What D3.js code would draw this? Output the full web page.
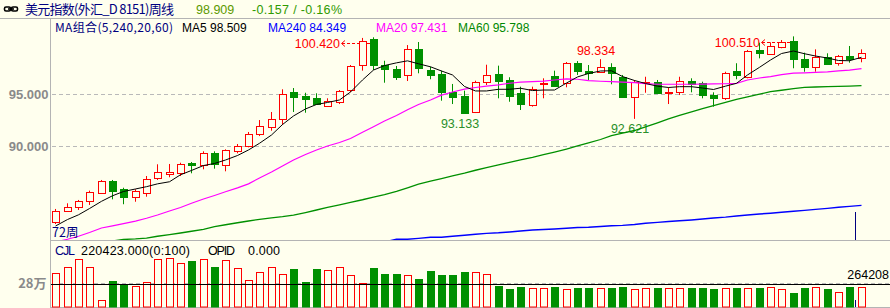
<!DOCTYPE html>
<html>
<head>
<meta charset="utf-8">
<script src="https://cdn.jsdelivr.net/npm/d3@7"></script>
<style>
body { margin: 0; background: #ffffee; }
svg { display: block; }
text { font-family: "Liberation Sans", Arial, sans-serif; }
.cjk { font-family: "Noto Sans CJK SC", "Liberation Sans", sans-serif; }
</style>
</head>
<body>
<svg width="890" height="308"></svg>
<script>
// 72 weekly bars, oldest first
let open = [82.73, 83.84, 84.17, 84.77, 85.56, 86.71, 85.89, 85.18, 85.56, 87.00,
  87.38, 87.48, 88.40, 88.18, 89.33, 88.24, 89.58, 90.00, 91.15, 91.82,
  92.58, 95.19, 94.81, 94.59, 93.88, 94.21, 95.35, 97.77, 100.26, 97.77,
  97.36, 96.79, 99.27, 97.29, 96.91, 95.19, 94.81, 93.25, 96.18, 96.94,
  96.31, 95.10, 93.92, 95.96, 96.72, 96.08, 97.94, 97.20, 97.13, 97.55,
  96.60, 94.74, 96.02, 96.12, 95.12, 95.16, 96.24, 96.02, 94.90, 94.59,
  97.20, 96.65, 99.21, 98.80, 99.52, 100.07, 98.32, 97.61, 98.57, 97.94,
  98.63, 98.41]
let high = [84.01, 84.55, 84.87, 85.76, 86.78, 86.78, 86.04, 85.89, 87.16, 88.28,
  88.31, 88.43, 88.50, 89.52, 89.52, 89.71, 90.22, 91.37, 92.51, 93.28,
  95.45, 95.57, 95.12, 95.07, 94.59, 95.38, 97.77, 100.36, 100.42, 98.18,
  97.68, 99.68, 99.97, 97.61, 97.23, 95.96, 95.32, 96.27, 97.80, 97.71,
  96.60, 95.70, 95.70, 96.50, 97.23, 98.06, 98.15, 97.77, 98.334, 97.94,
  96.82, 96.34, 96.65, 96.34, 95.64, 96.65, 96.50, 96.18, 95.16, 97.13,
  97.94, 99.21, 99.90, 99.94, 100.16, 100.51, 98.95, 99.27, 98.89, 98.73,
  99.59, 99.27]
let low = [82.57, 83.79, 83.91, 84.39, 85.44, 84.93, 84.46, 84.70, 85.18, 86.78,
  87.04, 87.16, 87.42, 87.80, 87.86, 87.61, 89.33, 89.90, 90.98, 91.49,
  92.04, 93.28, 93.21, 93.95, 93.79, 94.04, 95.16, 97.23, 97.29, 96.08,
  96.34, 96.24, 96.98, 96.41, 94.36, 94.04, 93.133, 93.18, 95.86, 94.59,
  94.26, 93.47, 93.79, 94.59, 95.70, 95.64, 96.82, 96.34, 97.04, 95.93,
  94.70, 92.621, 95.12, 95.00, 94.04, 94.90, 95.16, 94.59, 93.79, 94.43,
  96.41, 96.50, 98.41, 98.73, 99.37, 97.46, 97.13, 97.13, 97.80, 97.71,
  97.99, 98.03]
let close = [83.81, 84.17, 84.77, 85.63, 86.65, 85.73, 85.18, 85.73, 86.90, 87.51,
  87.54, 88.31, 88.24, 89.39, 88.31, 89.62, 90.00, 91.15, 91.91, 92.58,
  94.97, 94.67, 94.55, 94.04, 94.33, 95.26, 97.65, 100.10, 97.74, 97.36,
  96.65, 99.27, 97.46, 96.85, 95.22, 94.74, 93.21, 96.15, 96.82, 96.27,
  94.84, 94.04, 95.45, 96.08, 95.79, 97.94, 97.23, 97.04, 97.55, 96.98,
  94.74, 96.12, 96.18, 95.12, 95.22, 96.21, 95.96, 94.90, 94.65, 96.98,
  96.82, 99.11, 98.89, 99.59, 99.94, 98.35, 97.55, 98.57, 97.84, 98.66,
  98.32, 98.909]
let volume = [393000, 463000, 556000, 463000, 78000, 303000, 257000, 241000, 288000, 556000,
  568000, 510000, 537000, 556000, 467000, 545000, 452000, 315000, 405000, 463000,
  382000, 443000, 292000, 443000, 432000, 463000, 370000, 277000, 455000, 385000,
  385000, 370000, 327000, 420000, 373000, 373000, 408000, 408000, 382000, 245000,
  214000, 233000, 222000, 222000, 233000, 210000, 222000, 222000, 222000, 222000,
  233000, 210000, 222000, 222000, 222000, 222000, 222000, 222000, 210000, 222000,
  222000, 222000, 222000, 233000, 210000, 163000, 222000, 233000, 210000, 175000,
  233000, 233000]

// moving averages as drawn (null = below the panel)
let ma5 = [82.38, 83.00, 83.45, 84.05, 84.74, 85.27, 85.68, 85.92, 86.14, 86.41,
  86.61, 87.28, 87.69, 88.16, 88.36, 88.69, 89.12, 89.65, 90.29, 91.08,
  92.08, 92.90, 93.57, 94.00, 94.19, 94.43, 95.19, 96.34, 97.29, 97.72,
  97.98, 98.17, 97.89, 97.60, 97.20, 96.82, 95.72, 95.29, 95.29, 95.45,
  95.45, 95.55, 95.33, 95.38, 95.38, 96.05, 96.63, 96.96, 97.20, 97.22,
  96.67, 96.29, 96.00, 95.75, 95.62, 95.70, 95.70, 95.57, 95.43, 95.75,
  96.02, 96.82, 97.55, 98.25, 98.87, 99.11, 98.85, 98.63, 98.44, 98.20,
  98.18, 98.509]
let ma20 = [80.85, 81.11, 81.40, 81.76, 82.19, 82.40, 82.61, 82.84, 83.12, 83.43,
  83.81, 84.15, 84.55, 84.96, 85.30, 85.65, 86.03, 86.41, 86.97, 87.54,
  88.12, 88.69, 89.22, 89.65, 90.03, 90.36, 90.75, 91.34, 91.87, 92.42,
  92.94, 93.50, 94.00, 94.43, 94.89, 95.19, 95.46, 95.62, 95.76, 95.88,
  96.03, 96.13, 96.19, 96.24, 96.34, 96.45, 96.41, 96.28, 96.22, 96.18,
  96.13, 96.09, 95.99, 95.93, 95.93, 95.93, 95.93, 95.94, 95.96, 95.98,
  96.02, 96.34, 96.53, 96.66, 96.85, 96.99, 97.02, 97.07, 97.12, 97.22,
  97.29, 97.431]
let ma60 = [null, null, null, null, null, 80.95, 81.09, 81.14, 81.23, 81.40,
  81.56, 81.71, 81.88, 82.06, 82.33, 82.50, 82.69, 82.86, 83.02, 83.16,
  83.27, 83.43, 83.67, 83.91, 84.17, 84.41, 84.65, 84.89, 85.14, 85.39,
  85.69, 86.03, 86.38, 86.67, 86.92, 87.17, 87.43, 87.71, 87.97, 88.22,
  88.46, 88.71, 88.95, 89.20, 89.45, 89.74, 90.03, 90.32, 90.65, 91.03,
  91.27, 91.51, 91.85, 92.25, 92.62, 92.96, 93.29, 93.60, 93.90, 94.20,
  94.48, 94.73, 94.98, 95.23, 95.36, 95.51, 95.64, 95.67, 95.70, 95.73,
  95.76, 95.798]
let ma240 = [null, null, null, null, null, null, null, null, null, null,
  null, null, null, null, null, null, null, null, null, null,
  null, null, null, null, null, null, null, null, null, 80.86,
  81.11, 81.11, 81.20, 81.30, 81.30, 81.40, 81.49, 81.59, 81.68, 81.73,
  81.81, 81.90, 82.00, 82.04, 82.09, 82.16, 82.24, 82.26, 82.33, 82.41,
  82.44, 82.52, 82.64, 82.73, 82.81, 82.88, 82.96, 83.05, 83.15, 83.23,
  83.34, 83.43, 83.53, 83.60, 83.69, 83.79, 83.87, 83.97, 84.07, 84.17,
  84.26, 84.349]

let priceTicks = [95, 90]
let volumeTicks = [280000]
let volumeAvg = 264208
let highMarks = [28, 48, 65]
let lowMarks = [36, 51]

let bg = "#ffffee"
let red = "#ff0000"
let green = "#009000"
let fmt = d3.format(".3f")

var svg = d3.select("svg")
svg.append("rect").attr("width", 890).attr("height", 308).attr("fill", bg)

var x = d3.scaleBand().domain(d3.range(open.length)).range([50, 50 + open.length * 11.346])
var cx = i => Math.floor(x(i) + x.bandwidth() / 2)
var y = d3.scaleLinear().domain([90, 95]).range([146.3, 94])
var yv = d3.scaleLinear().domain([0, 280000]).range([307, 283])
var px = v => Math.round(v) + 0.5
var up = i => close[i] >= open[i]

svg.append("clipPath").attr("id", "pc")
  .append("rect").attr("x", 51).attr("y", 19).attr("width", 839).attr("height", 221)

// frame
svg.append("line").attr("x1", 0).attr("x2", 890).attr("y1", 18.5).attr("y2", 18.5).attr("stroke", "#b4b4b4")
svg.append("line").attr("x1", 50).attr("x2", 890).attr("y1", 240.5).attr("y2", 240.5).attr("stroke", "#b4b4b4")
svg.append("line").attr("x1", 50).attr("x2", 890).attr("y1", 307.5).attr("y2", 307.5).attr("stroke", "#b4b4b4")
svg.append("line").attr("x1", 50.5).attr("x2", 50.5).attr("y1", 18).attr("y2", 308).attr("stroke", "#b4b4b4")

// price grid + axis
svg.selectAll(".grid").data(priceTicks).enter().append("line")
  .attr("x1", 52).attr("x2", 890)
  .attr("y1", d => px(y(d))).attr("y2", d => px(y(d)))
  .attr("stroke", "#b9b9b9").attr("stroke-dasharray", "4,3")

var ax = svg.append("g").attr("transform", "translate(50.5,0)")
  .call(d3.axisLeft(y).tickValues(priceTicks).tickFormat(fmt).tickSize(0).tickPadding(2))
ax.select(".domain").remove()
ax.selectAll("text").attr("fill", "#8a8a8a").attr("font-size", 13).attr("font-weight", "bold")
  .attr("font-family", "Liberation Sans, Arial, sans-serif")

// volume grid + axis
svg.selectAll(".vgrid").data(volumeTicks).enter().append("line")
  .attr("x1", 52).attr("x2", 890)
  .attr("y1", d => px(yv(d))).attr("y2", d => px(yv(d)))
  .attr("stroke", "#b9b9b9").attr("stroke-dasharray", "4,3")

var vax = svg.append("g").attr("transform", "translate(50.5,0)")
  .call(d3.axisLeft(yv).tickValues(volumeTicks).tickFormat(d => (d / 10000) + "万").tickSize(0).tickPadding(4))
vax.select(".domain").remove()
vax.selectAll("text").attr("class", "cjk").attr("fill", "#8a8a8a").attr("font-size", 13).attr("font-weight", "bold")
  .attr("font-family", "Noto Sans CJK SC, sans-serif")

// extreme labels (under the candles)
var marks = svg.append("g").attr("clip-path", "url(#pc)")
highMarks.forEach(i => {
  let hy = y(high[i])
  if (i === 48) {
    marks.append("text").attr("x", cx(i) - 4).attr("y", hy - 4).attr("text-anchor", "middle")
      .attr("font-size", 12.5).attr("fill", red).text(fmt(high[i]))
  } else {
    let ay = Math.round(hy + 6) + 0.5
    let tx = cx(i) - 33
    marks.append("text").attr("x", tx).attr("y", ay + 4.5).attr("text-anchor", "end")
      .attr("font-size", 12.5).attr("fill", red).text(fmt(high[i]))
    marks.append("path").attr("d", `M${tx + 5},${ay - 3}L${tx + 1.5},${ay}L${tx + 5},${ay + 3}`)
      .attr("fill", "none").attr("stroke", red)
    marks.append("line").attr("x1", tx + 2).attr("x2", cx(i)).attr("y1", ay).attr("y2", ay)
      .attr("stroke", red).attr("stroke-dasharray", "3,2")
  }
})
lowMarks.forEach(i => {
  marks.append("text").attr("x", cx(i) - 4).attr("y", y(low[i]) + 14).attr("text-anchor", "middle")
    .attr("font-size", 12.5).attr("fill", "#2a8f2a").text(fmt(low[i]))
})

// candles
var candle = svg.append("g").attr("clip-path", "url(#pc)")
  .selectAll("g").data(d3.range(open.length)).enter().append("g")
candle.append("line")
  .attr("x1", i => cx(i) + 0.5).attr("x2", i => cx(i) + 0.5)
  .attr("y1", i => y(high[i])).attr("y2", i => y(low[i]))
  .attr("stroke", i => up(i) ? red : green)
candle.append("rect")
  .attr("x", i => cx(i) - 2.5)
  .attr("y", i => px(y(Math.max(open[i], close[i]))))
  .attr("width", 7)
  .attr("height", i => Math.max(1, px(y(Math.min(open[i], close[i]))) - px(y(Math.max(open[i], close[i])))))
  .attr("fill", i => up(i) ? bg : green)
  .attr("stroke", i => up(i) ? red : green)

// MA lines
var line = d3.line().defined(d => d != null).x((d, i) => cx(i) + 0.5).y(d => y(d))
var maGroup = svg.append("g").attr("clip-path", "url(#pc)")
let mas = [[ma240, "#0000ff", 1.4], [ma60, green, 1.3], [ma20, "#ff00ff", 1.2], [ma5, "#000000", 1]]
mas.forEach(m => {
  maGroup.append("path").datum(m[0]).attr("d", line)
    .attr("fill", "none").attr("stroke", m[1]).attr("stroke-width", m[2])
})

// marker line near the last bar
svg.append("line").attr("x1", 855.5).attr("x2", 855.5).attr("y1", 212).attr("y2", 240).attr("stroke", "#000080")
svg.append("line").attr("x1", 855.5).attr("x2", 855.5).attr("y1", 300).attr("y2", 307).attr("stroke", "#000080")

// volume bars
var vb = svg.selectAll(".vol").data(d3.range(volume.length)).enter().append("rect")
  .attr("x", i => cx(i) - 2.5)
  .attr("y", i => px(yv(volume[i])))
  .attr("width", 7)
  .attr("height", i => 307 - px(yv(volume[i])))
  .attr("fill", i => up(i) ? bg : green)
  .attr("stroke", i => up(i) ? red : green)

svg.append("line").attr("x1", 51).attr("x2", 890)
  .attr("y1", px(yv(volumeAvg))).attr("y2", px(yv(volumeAvg))).attr("stroke", "#000")
svg.append("text").attr("x", 889).attr("y", 279).attr("text-anchor", "end")
  .attr("font-size", 12.5).attr("fill", "#000").text(volumeAvg)

// header
var icon = svg.append("g").attr("fill", "none").attr("stroke", "#000").attr("stroke-width", 1.6)
icon.append("rect").attr("x", 4.5).attr("y", 7).attr("width", 6).attr("height", 4).attr("rx", 1.5)
icon.append("rect").attr("x", 11.5).attr("y", 7).attr("width", 6).attr("height", 4).attr("rx", 1.5)
icon.append("line").attr("x1", 8).attr("x2", 14).attr("y1", 9).attr("y2", 9)

svg.append("text").attr("class", "cjk").attr("x", 25).attr("y", 14).attr("font-size", 13)
  .attr("fill", "#000080").attr("textLength", 149).text("美元指数(外汇_D 8151)周线")
svg.append("text").attr("x", 196).attr("y", 14).attr("font-size", 12.5)
  .attr("fill", "#5c9900").text(fmt(close[close.length - 1]))
svg.append("text").attr("x", 252).attr("y", 14).attr("font-size", 12.5)
  .attr("fill", "#2f9a00").attr("textLength", 90).text("-0.157 / -0.16%")

svg.append("text").attr("class", "cjk").attr("x", 55).attr("y", 31.5).attr("font-size", 12)
  .attr("fill", "#000080").attr("textLength", 118).text("MA组合(5,240,20,60)")
let legend = [["MA5", ma5, "#000000", 182], ["MA240", ma240, "#0000ff", 268],
  ["MA20", ma20, "#ff00ff", 376], ["MA60", ma60, "#008800", 458]]
legend.forEach(l => {
  svg.append("text").attr("x", l[3]).attr("y", 31.5).attr("font-size", 12)
    .attr("fill", l[2]).text(l[0] + " " + fmt(l[1][l[1].length - 1]))
})

svg.append("text").attr("class", "cjk").attr("x", 52).attr("y", 237).attr("font-size", 12.5)
  .attr("fill", "#000080").text(open.length + "周")

// volume header
let volHeader = [["CJL", 55, 20, "#000080"], ["220423.000(0:100)", 81, 109, "#000"],
  ["OPID", 208, 27, "#000"], ["0.000", 248, 32, "#000"]]
volHeader.forEach(h => {
  svg.append("text").attr("x", h[1]).attr("y", 254.5).attr("font-size", 12.5)
    .attr("fill", h[3]).attr("textLength", h[2]).text(h[0])
})
</script>
</body>
</html>
